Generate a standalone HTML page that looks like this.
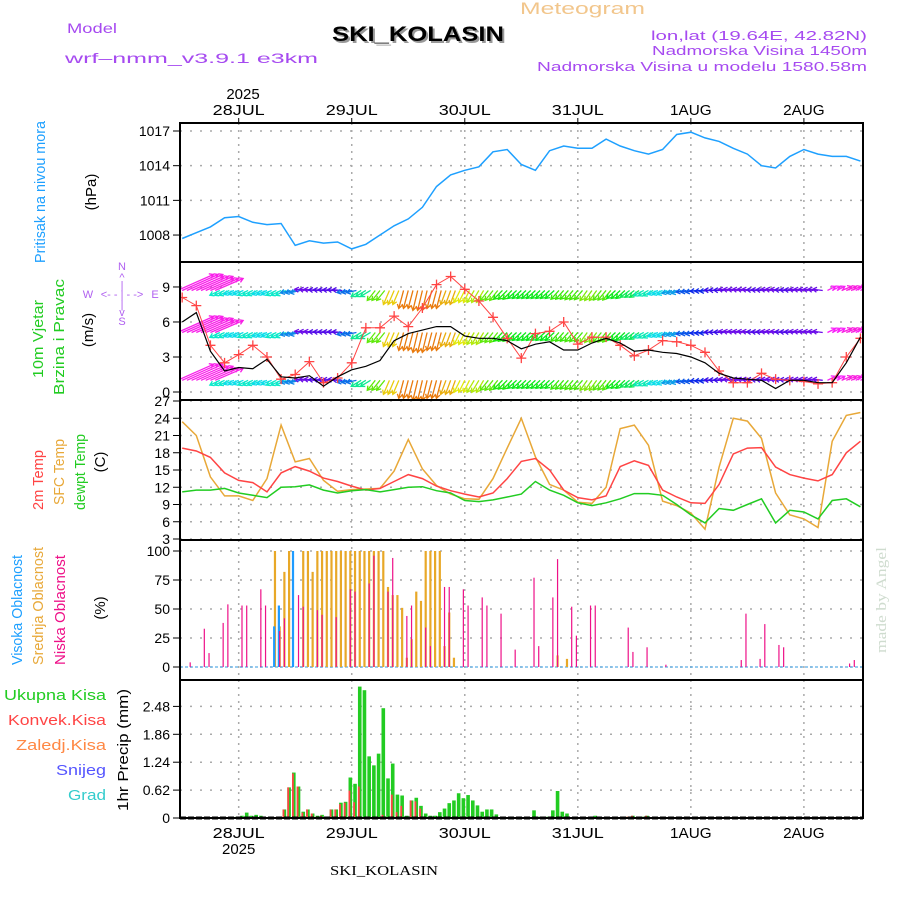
<!DOCTYPE html>
<html><head><meta charset="utf-8"><title>Meteogram SKI_KOLASIN</title>
<style>
html,body{margin:0;padding:0;background:#fff;}
svg{display:block;font-family:"Liberation Sans",sans-serif;}
</style></head>
<body>
<svg id="chart" width="900" height="900" viewBox="0 0 900 900" xmlns="http://www.w3.org/2000/svg">
<rect x="0" y="0" width="900" height="900" fill="#fff"/>
<text x="520" y="14" fill="#f2c68c" font-size="17" textLength="125" lengthAdjust="spacingAndGlyphs">Meteogram</text>
<text x="67" y="33" fill="#a64af0" font-size="14" textLength="50" lengthAdjust="spacingAndGlyphs">Model</text>
<text x="65" y="63" fill="#a64af0" font-size="14" textLength="253" lengthAdjust="spacingAndGlyphs">wrf–nmm_v3.9.1  e3km</text>
<text x="420" y="43" fill="#999" font-size="21" font-weight="bold" text-anchor="middle" textLength="172" lengthAdjust="spacingAndGlyphs">SKI_KOLASIN</text>
<text x="418" y="41" fill="#000" font-size="21" font-weight="bold" text-anchor="middle" textLength="172" lengthAdjust="spacingAndGlyphs">SKI_KOLASIN</text>
<text x="867" y="40" fill="#a64af0" font-size="13" text-anchor="end" textLength="216" lengthAdjust="spacingAndGlyphs">lon,lat (19.64E, 42.82N)</text>
<text x="867" y="55" fill="#a64af0" font-size="13" text-anchor="end" textLength="215" lengthAdjust="spacingAndGlyphs">Nadmorska Visina 1450m</text>
<text x="867" y="71" fill="#a64af0" font-size="13" text-anchor="end" textLength="330" lengthAdjust="spacingAndGlyphs">Nadmorska Visina u modelu 1580.58m</text>
<text x="243" y="99" font-size="15" text-anchor="middle">2025</text>
<text x="384" y="875" font-family="Liberation Serif, serif" font-size="14" text-anchor="middle" textLength="108" lengthAdjust="spacingAndGlyphs">SKI_KOLASIN</text>
<text x="0" y="0" transform="translate(886,600) rotate(-90)" fill="#cfdccf" font-family="Liberation Serif, serif" font-size="15" text-anchor="middle" textLength="106" lengthAdjust="spacingAndGlyphs">made by Angel</text>

<text transform="translate(45,192) rotate(-90)" fill="#1ea0ff" font-size="15" text-anchor="middle" textLength="142" lengthAdjust="spacingAndGlyphs">Pritisak na nivou mora</text>
<text transform="translate(96,192) rotate(-90)" fill="#000" font-size="15" text-anchor="middle">(hPa)</text>
<text transform="translate(43,339) rotate(-90)" fill="#22cc22" font-size="15" text-anchor="middle" textLength="78" lengthAdjust="spacingAndGlyphs">10m Vjetar</text>
<text transform="translate(64,337) rotate(-90)" fill="#22cc22" font-size="15" text-anchor="middle" textLength="116" lengthAdjust="spacingAndGlyphs">Brzina i Pravac</text>
<text transform="translate(93,330) rotate(-90)" fill="#000" font-size="15" text-anchor="middle">(m/s)</text>
<g fill="#b060f0" font-size="11" text-anchor="middle">
<text x="122" y="270">N</text><text x="122" y="281">^</text><text x="122" y="289">|</text>
<text x="122" y="298">&lt;- - | - -&gt;</text><text x="88" y="298">W</text><text x="155" y="298">E</text>
<text x="122" y="308">|</text><text x="122" y="316">v</text><text x="122" y="325">S</text>
</g>
<text transform="translate(43,480) rotate(-90)" fill="#ff4444" font-size="15" text-anchor="middle" textLength="60" lengthAdjust="spacingAndGlyphs">2m Temp</text>
<text transform="translate(64,472) rotate(-90)" fill="#e8a838" font-size="15" text-anchor="middle" textLength="66" lengthAdjust="spacingAndGlyphs">SFC Temp</text>
<text transform="translate(85,472) rotate(-90)" fill="#22cc22" font-size="15" text-anchor="middle" textLength="76" lengthAdjust="spacingAndGlyphs">dewpt Temp</text>
<text transform="translate(105,462) rotate(-90)" fill="#000" font-size="15" text-anchor="middle">(C)</text>
<text transform="translate(22,610) rotate(-90)" fill="#1ea0ff" font-size="15" text-anchor="middle" textLength="110" lengthAdjust="spacingAndGlyphs">Visoka Oblacnost</text>
<text transform="translate(43,606) rotate(-90)" fill="#e8a838" font-size="15" text-anchor="middle" textLength="118" lengthAdjust="spacingAndGlyphs">Srednja Oblacnost</text>
<text transform="translate(65,610) rotate(-90)" fill="#ee1188" font-size="15" text-anchor="middle" textLength="110" lengthAdjust="spacingAndGlyphs">Niska Oblacnost</text>
<text transform="translate(105,608) rotate(-90)" fill="#000" font-size="15" text-anchor="middle">(%)</text>
<text x="106" y="700" fill="#22cc22" font-size="15" text-anchor="end" textLength="102" lengthAdjust="spacingAndGlyphs">Ukupna  Kisa</text>
<text x="106" y="725" fill="#ff4444" font-size="15" text-anchor="end" textLength="98" lengthAdjust="spacingAndGlyphs">Konvek.Kisa</text>
<text x="106" y="750" fill="#ff8844" font-size="15" text-anchor="end" textLength="90" lengthAdjust="spacingAndGlyphs">Zaledj.Kisa</text>
<text x="106" y="775" fill="#5555ff" font-size="15" text-anchor="end" textLength="50" lengthAdjust="spacingAndGlyphs">Snijeg</text>
<text x="106" y="800" fill="#33cccc" font-size="15" text-anchor="end" textLength="38" lengthAdjust="spacingAndGlyphs">Grad</text>
<text transform="translate(128,750) rotate(-90)" fill="#000" font-size="15" text-anchor="middle" textLength="122" lengthAdjust="spacingAndGlyphs">1hr Precip (mm)</text>
<g id="layer"></g>
</svg>
<script>
// ---- data (hours relative to 28JUL 00UTC) ----
const hours3 = [-12,-9,-6,-3,0,3,6,9,12,15,18,21,24,27,30,33,36,39,42,45,48,51,54,57,60,63,66,69,72,75,78,81,84,87,90,93,96,99,102,105,108,111,114,117,120,123,126,129,132];
const dayLabels = ['28JUL','29JUL','30JUL','31JUL','1AUG','2AUG'];
const dayHours = [0,24,48,72,96,120];
const pressure = [1007.7,1008.2,1008.7,1009.5,1009.6,1009.1,1008.9,1009.0,1007.1,1007.5,1007.3,1007.4,1006.8,1007.2,1008.0,1008.8,1009.4,1010.4,1012.2,1013.2,1013.6,1013.9,1015.2,1015.4,1014.1,1013.6,1015.3,1015.7,1015.5,1015.5,1016.3,1015.7,1015.3,1015.0,1015.4,1016.7,1016.9,1016.4,1016.1,1015.5,1015.0,1014.0,1013.8,1014.8,1015.4,1015.0,1014.8,1014.8,1014.4];
const pressureTicks = [1008,1011,1014,1017];
const windSpeed = [6.0,6.8,3.5,1.8,2.1,2.0,2.8,1.3,1.2,1.4,0.5,1.3,1.9,2.2,2.7,4.4,5.0,5.3,5.6,5.6,4.8,4.6,4.6,4.4,3.7,4.1,4.3,3.6,3.6,4.2,4.6,4.2,3.5,3.6,3.4,3.3,3.0,2.5,1.6,1.2,1.1,1.0,0.3,1.0,1.0,0.8,0.8,2.5,4.7];
const windGust = [8.1,7.4,4.0,2.5,3.2,4.0,3.0,1.1,1.5,2.6,0.8,1.2,2.5,5.5,5.5,6.5,5.6,7.2,9.2,9.9,8.8,7.8,6.4,4.6,2.9,5.0,5.2,6.0,4.1,4.7,4.7,4.0,3.1,3.6,4.4,4.3,4.0,3.4,1.8,0.8,0.8,1.6,1.1,1.0,0.9,0.7,0.8,3.0,4.6];
const windU = [9,8,7,-2.5,-2.5,-2.5,-2.5,-2.5,-2.5,-2.5,-2.5,-2.5,-2.5,-2.5,-2,-1.5,-1.2,-1.2,-1.2,-1.3,-1.5,-1.8,-2,-2.2,-2.2,-2.2,-2.2,-2,-2,-1.8,-2,-2.2,-2.3,-2.5,-2.5,-2.5,-2.5,-2.5,-2.5,-2.5,-2.5,-2.5,-2.5,-2.5,-2.5,-2.5,2,2.5,2.5];
const windV = [4,3.5,3,-1.2,-1,-1.2,-1,-1.2,-0.6,0.3,0.2,0.2,-0.5,-1.5,-2.5,-3.5,-4.5,-5,-4.5,-3.5,-3,-3,-2.5,-2.2,-2,-2,-2,-2.2,-2.3,-2.5,-2.4,-2,-1.7,-1.3,-1,-0.7,-0.4,-0.2,0.1,0.3,0.3,0.2,0.3,0.2,0.3,0.3,1,1,1.2];
const windRows = [8.7,5.1,1.0];
const windTicks = [0,3,6,9];
const temp2m = [18.8,18.3,17.2,14.5,13.2,12.8,11.2,14.5,15.6,14.8,13.6,13.0,12.2,11.5,11.8,13.0,14.2,13.5,12.2,11.4,10.8,10.3,11.0,13.5,16.5,17.0,15.0,11.5,10.2,9.8,10.5,15.6,16.6,15.8,11.5,10.3,9.3,9.2,12.5,17.8,18.8,18.9,15.5,14.2,13.6,13.1,14.2,18.0,20.0];
const tempSfc = [23.4,21.0,13.8,10.5,10.5,9.7,13.5,22.8,16.4,17.0,13.2,11.3,11.6,11.7,11.8,14.8,20.3,15.2,12.3,10.8,10.0,9.9,13.5,18.8,24.0,17.3,12.5,11.5,9.4,9.2,12.0,22.2,22.8,19.3,9.6,8.8,7.5,4.7,15.5,24.0,23.5,20.5,11.0,7.2,6.5,5.0,20.0,24.5,25.0];
const dewpoint = [11.2,11.5,11.5,11.8,11.0,10.6,10.2,12.0,12.1,12.4,11.5,11.0,11.4,11.6,11.2,11.6,12.0,12.1,11.4,11.0,9.7,9.5,9.8,10.3,10.8,13.0,11.5,10.6,9.3,8.8,9.3,10.0,10.9,10.9,10.6,9.0,7.2,5.8,8.3,8.0,9.0,10.0,5.8,8.0,7.7,6.5,9.7,10.0,8.6];
const tempTicks = [3,6,9,12,15,18,21,24,27];
const lowCloudHours = [-11,-8,-7,-4,-3,0,1,4,5,8,9,12,13,16,17,20,23,24,27,28,31,32,35,36,39,40,43,44,47,48,51,52,55,58,62,63,66,67,70,71,74,75,82,83,86,90,106,107,110,111,114,115,129,130];
const lowCloud = [4,33,12,38,54,53,53,67,53,31,42,62,52,49,45,43,67,65,72,96,65,94,44,53,34,18,69,69,67,53,60,53,46,15,77,18,60,93,52,27,53,53,34,13,17,2,6,46,7,37,19,17,3,6];
const midCloudHours = [7,8,9,10,13,14,15,16,17,18,19,20,21,22,23,24,25,26,27,28,29,30,31,32,33,34,35,36,37,38,39,40,41,42,43,44,45,67,69];
const midCloud = [100,35,82,100,100,100,82,100,100,100,100,100,100,100,100,100,100,100,100,100,100,100,69,62,62,51,8,24,65,57,100,100,100,100,18,47,8,10,7];
const highCloudHours = [7,8,11];
const highCloud = [35,53,100];
const cloudTicks = [0,25,50,75,100];
const precipHours = [-1,0,1,2,3,4,9,10,11,12,13,14,15,16,17,19,20,21,22,23,24,25,26,27,28,29,30,31,32,33,34,35,36,37,38,39,40,41,42,43,44,45,46,47,48,49,50,51,52,53,54,62,63,65,66,67,68,69,75,76,82,83,85,86];
const precipTotal = [0.03,0.05,0.12,0.05,0.07,0.05,0.19,0.68,1.01,0.70,0.14,0.19,0.10,0.05,0.07,0.19,0.19,0.34,0.36,0.90,0.76,2.92,2.84,1.37,1.17,1.43,2.44,0.88,1.21,0.52,0.50,0.05,0.39,0.45,0.27,0.10,0.05,0.05,0.13,0.21,0.33,0.39,0.55,0.44,0.51,0.39,0.28,0.14,0.19,0.19,0.08,0.17,0.03,0.03,0.17,0.60,0.14,0.10,0.05,0.03,0.03,0.05,0.03,0.05];
const precipConv = [0,0,0,0,0,0,0.19,0.68,0.99,0.70,0.12,0.19,0.10,0.03,0.05,0.19,0.19,0.31,0.34,0.61,0.35,0.70,0,0,0,0,0.07,0.02,0.52,0.13,0.27,0,0.39,0.37,0.21,0,0,0,0,0,0,0,0,0,0,0,0,0,0,0,0,0,0,0,0,0,0,0,0,0,0.03,0.05,0.03,0.05];
const precipTicks = [0,0.62,1.24,1.86,2.48];

// ---- scales ----
const X0 = 180, X1 = 863;
const xS = h => 238.7 + h * 4.71;
const BAR_SHIFT = 0.7;
const yP = p => 131 + (1017 - p) * 11.56;
const yW = v => 392 - v * 11.67;
const yT = t => 401 + (27 - t) * 5.75;
const yC = c => 667 - c * 1.16;
const yR = r => 818 - r * 45;
const panels = [[123,262],[262,400],[400,540],[540,680],[680,818]];

const NS = 'http://www.w3.org/2000/svg';
const layer = document.getElementById('layer');
function mk(tag, attrs, parent) {
  const e = document.createElementNS(NS, tag);
  for (const k in attrs) e.setAttribute(k, attrs[k]);
  (parent || layer).appendChild(e);
  return e;
}
const defs = mk('defs', {});
panels.forEach((p, i) => {
  const cp = mk('clipPath', {id: 'clip' + i}, defs);
  mk('rect', {x: X0, y: p[0], width: X1 - X0, height: p[1] - p[0]}, cp);
});

function hGrid(y, name) {
  const l = mk('line', {x1: X0, x2: X1, y1: y, y2: y, stroke: '#aaa', 'stroke-width': 1.5, 'stroke-dasharray': '2,8'});
  
  
}
function tickLabel(y, txt, name) {
  const t = mk('text', {x: 170, y: y + 5, 'font-size': 14, 'text-anchor': 'end', fill: '#000'});
  t.textContent = txt;
  
  
  const tk = mk('line', {x1: 173, x2: 180, y1: y, y2: y, stroke: '#000', 'stroke-width': 1});
  
  
}
panels.forEach((p, i) => {
  dayHours.forEach((h, j) => {
    const l = mk('line', {x1: xS(h), x2: xS(h), y1: p[0], y2: p[1], stroke: '#aaa', 'stroke-width': 1.5, 'stroke-dasharray': '2,5'});
    
    
  });
});
pressureTicks.forEach(v => { hGrid(yP(v), 'pressure-gridline'); tickLabel(yP(v), String(v), 'pressure-tick-label'); });
windTicks.forEach(v => { hGrid(yW(v), 'wind-gridline'); tickLabel(yW(v), String(v), 'wind-tick-label'); });
tempTicks.forEach(v => { hGrid(yT(v), 'temp-gridline'); tickLabel(yT(v), String(v), 'temp-tick-label'); });
cloudTicks.forEach(v => { hGrid(yC(v), 'cloud-gridline'); tickLabel(yC(v), String(v), 'cloud-tick-label'); });
precipTicks.forEach(v => { hGrid(yR(v), 'precip-gridline'); tickLabel(yR(v), String(v), 'precip-tick-label'); });

function linePath(ys, fn) {
  return hours3.map((h, i) => (i ? 'L' : 'M') + xS(h).toFixed(1) + ',' + fn(ys[i]).toFixed(1)).join('');
}
// pressure
const gp = mk('g', {'clip-path': 'url(#clip0)'});


const pl = mk('path', {d: linePath(pressure, yP), fill: 'none', stroke: '#1ea0ff', 'stroke-width': 1.5}, gp);



// wind
const gw = mk('g', {'clip-path': 'url(#clip1)'});


function dirColor(u, v) {
  let a = Math.atan2(v, u) * 180 / Math.PI; if (a < 0) a += 360;
  if (a < 100) return 'hsl(' + (340 - a * 1.5) + ',95%,55%)';
  let hue = 275 - (a - 170) * 2.9;
  hue = Math.max(30, Math.min(280, hue));
  return 'hsl(' + hue + ',90%,48%)';
}
const HATCH = [-1, 0, 1];
windRows.forEach((row, r) => {
  hours3.forEach((h, i) => {
    const dx = windU[i] * 4, dy = -windV[i] * 4;
    const c = dirColor(windU[i], windV[i]);
    const len = Math.hypot(dx, dy), ux = dx / len, uy = dy / len;
    HATCH.forEach(k => {
      const x = xS(h + k), y = yW(row);
      const ex = x + dx, ey = y + dy;
      const d = 'M' + x + ',' + y + 'L' + ex + ',' + ey +
        'M' + (ex - ux * 4 - uy * 2.5) + ',' + (ey - uy * 4 + ux * 2.5) + 'L' + ex + ',' + ey +
        'L' + (ex - ux * 4 + uy * 2.5) + ',' + (ey - uy * 4 - ux * 2.5);
      const a = mk('path', {d: d, stroke: c, 'stroke-width': 1.3, fill: 'none'}, gw);
      
      
    });
  });
});
const gl = mk('path', {d: linePath(windGust, yW), fill: 'none', stroke: '#ff4444', 'stroke-width': 1}, gw);


hours3.forEach((h, i) => {
  const x = xS(h), y = yW(windGust[i]);
  const cr = mk('path', {d: 'M' + (x - 5) + ',' + y + 'L' + (x + 5) + ',' + y + 'M' + x + ',' + (y - 5) + 'L' + x + ',' + (y + 5), stroke: '#ff4444', 'stroke-width': 1.3}, gw);
  
  
});
const sl = mk('path', {d: linePath(windSpeed, yW), fill: 'none', stroke: '#000', 'stroke-width': 1.2}, gw);



// temperatures
const gt = mk('g', {'clip-path': 'url(#clip2)'});


const l1 = mk('path', {d: linePath(tempSfc, yT), fill: 'none', stroke: '#e8a838', 'stroke-width': 1.5}, gt);


const l2 = mk('path', {d: linePath(temp2m, yT), fill: 'none', stroke: '#ff4444', 'stroke-width': 1.5}, gt);


const l3 = mk('path', {d: linePath(dewpoint, yT), fill: 'none', stroke: '#22cc22', 'stroke-width': 1.5}, gt);



// clouds
const gc = mk('g', {'clip-path': 'url(#clip3)'});


const base = mk('line', {x1: X0, x2: X1, y1: yC(0), y2: yC(0), stroke: '#5aaee8', 'stroke-width': 1.2, 'stroke-dasharray': '3,2'}, gc);


function cloudBars(hrs, vals, color, w, off, name) {
  hrs.forEach((h, i) => {
    const x = xS(h + BAR_SHIFT) + off;
    const b = mk('rect', {x: x - w / 2, y: yC(vals[i]), width: w, height: yC(0) - yC(vals[i]), fill: color}, gc);
    
    
  });
}
cloudBars(midCloudHours, midCloud, '#e8a828', 2.2, 0, 'mid-cloud-bar');
cloudBars(highCloudHours, highCloud, '#1e9bff', 2.2, -0.8, 'high-cloud-bar');
cloudBars(lowCloudHours, lowCloud, '#ee1188', 1.2, 0, 'low-cloud-bar');

// precipitation
const gr = mk('g', {'clip-path': 'url(#clip4)'});


precipHours.forEach((h, i) => {
  const x = xS(h + BAR_SHIFT);
  const b = mk('rect', {x: x - 1.8, y: yR(precipTotal[i]), width: 3.6, height: yR(0) - yR(precipTotal[i]), fill: '#22cc22'}, gr);
  
  
  if (precipConv[i] > 0) {
    const c = mk('rect', {x: x - 1.8, y: yR(precipConv[i]), width: 1.8, height: yR(0) - yR(precipConv[i]), fill: '#ff4444'}, gr);
    
    
  }
});

// day labels
dayHours.forEach((h, j) => {
  const w = dayLabels[j].length * 10.4;
  const t = mk('text', {x: xS(h), y: 115, 'font-size': 15, 'text-anchor': 'middle', textLength: w, lengthAdjust: 'spacingAndGlyphs'});
  t.textContent = dayLabels[j];
  
  
  const b = mk('text', {x: xS(h), y: 838, 'font-size': 15, 'text-anchor': 'middle', textLength: w, lengthAdjust: 'spacingAndGlyphs'});
  b.textContent = dayLabels[j];
  
  
  const tk = mk('line', {x1: xS(h), x2: xS(h), y1: 118, y2: 123, stroke: '#000', 'stroke-width': 1});
  
  
});
const yr = mk('text', {x: xS(0), y: 854, 'font-size': 15, 'text-anchor': 'middle'});
yr.textContent = '2025';



// frames
panels.forEach((p, i) => {
  const f = mk('rect', {x: X0, y: p[0], width: X1 - X0, height: p[1] - p[0], fill: 'none', stroke: '#000', 'stroke-width': 2});
  
  
});
const bl = mk('line', {x1: X0, x2: X1, y1: 818, y2: 818, stroke: '#000', 'stroke-width': 3, 'stroke-dasharray': '6,2'});


</script>
</body></html>
